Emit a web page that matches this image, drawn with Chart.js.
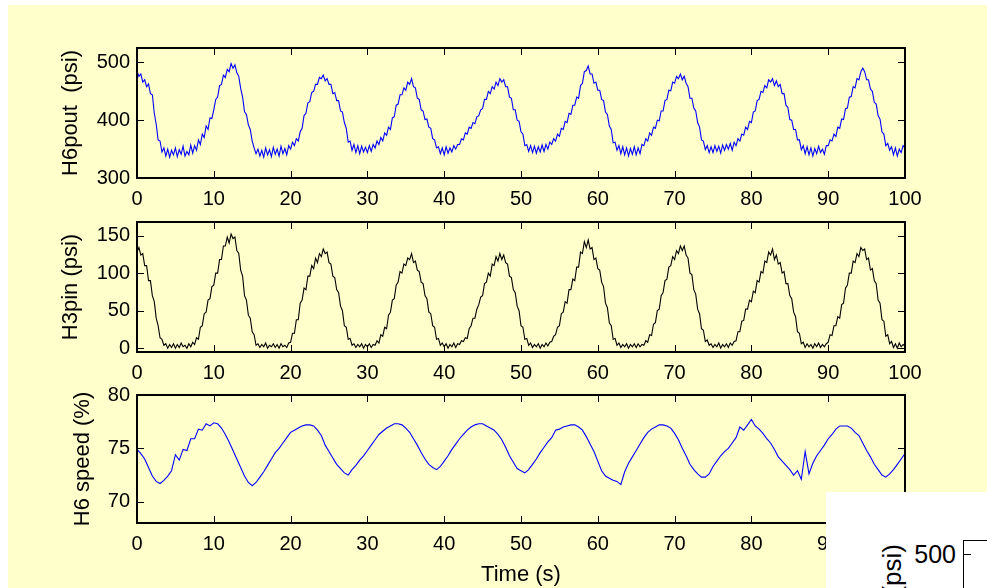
<!DOCTYPE html>
<html lang="en">
<head>
<meta charset="UTF-8">
<title>H6 discharge, H3 suction and H6 speed</title>
<script src="https://cdn.jsdelivr.net/npm/chart.js"></script>
<style>
  html, body { margin: 0; padding: 0; background: #fff; }
  body { width: 987px; height: 588px; position: relative; overflow: hidden; font-family: "Liberation Sans", Arial, sans-serif; }
  #figure { position: absolute; left: 8px; top: 5px; right: 0; bottom: 0; background: #ffffcc; }
  canvas.panel { position: absolute; left: 0; top: 0; }
  /* corner of another figure window lying on top */
  #other { position: absolute; left: 826px; top: 492px; width: 161px; height: 96px; background: #fff; overflow: hidden; z-index: 5; }
  #other .ylab { position: absolute; left: 51px; top: 52px; line-height: 30px; font-size: 26px; white-space: nowrap;
                 writing-mode: vertical-rl; transform: rotate(180deg); }
  #other .tick500 { position: absolute; right: 31px; top: 47px; line-height: 30px; font-size: 25px; }
  #other .box { position: absolute; left: 137px; top: 48px; width: 40px; height: 60px; border-left: 1px solid #000; border-top: 1px solid #000; }
  #other .mark { position: absolute; left: 137px; top: 62px; width: 8px; height: 1px; background: #000; }
</style>
</head>
<body>
<div id="figure"></div>
<canvas class="panel" id="p1" width="987" height="588"></canvas>
<canvas class="panel" id="p2" width="987" height="588"></canvas>
<canvas class="panel" id="p3" width="987" height="588"></canvas>
<div id="other">
  <div class="ylab">H6pout (psi)</div>
  <div class="tick500">500</div>
  <div class="box"></div>
  <div class="mark"></div>
</div>

<script>
// x tick values shared by the three panels
const xTicks = [0, 10, 20, 30, 40, 50, 60, 70, 80, 90, 100];

// H6 outlet pressure (psi), one sample every 0.25 s
const h6pout = [
  485, 476, 480, 466, 470, 458, 463, 446, 444, 412, 393, 366, 364, 345, 352, 338, 350, 336, 348, 340,
  352, 337, 349, 341, 355, 338, 346, 340, 357, 343, 356, 348, 366, 358, 376, 370, 390, 384, 404, 403,
  418, 436, 440, 460, 462, 478, 474, 488, 484, 498, 490, 496, 482, 476, 455, 440, 415, 410, 392, 384,
  364, 352, 342, 350, 338, 348, 336, 352, 340, 349, 337, 353, 341, 350, 338, 355, 342, 351, 340, 356,
  350, 362, 356, 368, 364, 380, 386, 408, 412, 430, 432, 448, 450, 462, 462, 474, 472, 478, 468, 472,
  462, 462, 446, 448, 434, 434, 416, 414, 396, 386, 362, 364, 348, 358, 344, 356, 342, 355, 345, 353,
  344, 356, 346, 358, 352, 364, 358, 370, 364, 378, 374, 388, 384, 404, 406, 426, 428, 444, 444, 456,
  452, 466, 462, 472, 458, 456, 438, 436, 418, 416, 401, 402, 388, 386, 368, 366, 352, 354, 342, 352,
  340, 354, 343, 352, 345, 356, 350, 358, 358, 368, 366, 378, 376, 388, 386, 396, 394, 406, 408, 418,
  420, 436, 436, 450, 446, 458, 454, 466, 460, 472, 466, 470, 458, 458, 440, 438, 418, 418, 400, 398,
  380, 376, 356, 358, 346, 356, 344, 355, 343, 354, 345, 357, 346, 358, 350, 362, 358, 368, 364, 376,
  372, 386, 384, 398, 396, 412, 410, 426, 426, 440, 438, 460, 464, 484, 486, 494, 480, 480, 464, 466,
  452, 452, 436, 434, 414, 410, 390, 384, 361, 362, 348, 356, 342, 354, 340, 352, 338, 351, 341, 354,
  340, 352, 342, 358, 356, 368, 364, 378, 374, 388, 386, 400, 399, 416, 416, 434, 436, 452, 451, 466,
  464, 476, 472, 480, 470, 476, 464, 458, 438, 438, 421, 416, 396, 388, 366, 364, 349, 356, 344, 354,
  344, 356, 346, 355, 343, 357, 348, 358, 350, 360, 348, 362, 356, 368, 364, 376, 374, 388, 384, 398,
  396, 414, 416, 434, 436, 450, 448, 460, 456, 470, 466, 472, 460, 468, 458, 462, 446, 446, 426, 422,
  401, 400, 384, 384, 366, 366, 349, 356, 342, 354, 340, 352, 338, 351, 342, 355, 344, 350, 341, 356,
  356, 366, 364, 376, 372, 388, 386, 402, 401, 420, 421, 440, 441, 458, 456, 472, 470, 484, 490, 484,
  470, 470, 454, 450, 431, 428, 408, 402, 380, 376, 356, 360, 348, 354, 340, 352, 338, 350, 344, 356,
  352
];

// H3 inlet pressure (psi), one sample every 0.25 s
const h3pin = [
  128, 134, 124, 126, 110, 110, 90, 90, 70, 62, 40, 30, 14, 12, 4, 6, 0, 5, 1, 6,
  0, 5, 1, 7, 2, 4, 0, 6, 2, 8, 5, 14, 12, 28, 30, 46, 48, 64, 66, 82,
  84, 100, 100, 118, 118, 136, 136, 148, 140, 152, 146, 148, 130, 126, 104, 96, 70, 64, 44, 40,
  22, 18, 4, 6, 1, 5, 2, 7, 0, 4, 2, 6, 1, 5, 0, 6, 2, 4, 1, 7,
  8, 20, 20, 38, 38, 60, 64, 80, 78, 96, 96, 110, 106, 120, 114, 126, 122, 132, 126, 128,
  114, 112, 96, 94, 78, 74, 56, 50, 30, 28, 12, 13, 4, 6, 1, 5, 2, 6, 0, 5,
  2, 6, 1, 5, 4, 10, 7, 18, 16, 28, 26, 44, 48, 64, 66, 84, 88, 102, 100, 112,
  110, 120, 118, 126, 114, 116, 104, 102, 88, 86, 70, 66, 48, 46, 30, 28, 12, 13, 4, 7,
  2, 6, 0, 5, 2, 7, 1, 6, 5, 10, 9, 14, 13, 26, 30, 40, 40, 52, 58, 68,
  70, 86, 88, 100, 96, 112, 110, 122, 116, 126, 118, 124, 114, 112, 96, 94, 78, 74, 56, 50,
  30, 28, 12, 13, 4, 7, 1, 5, 2, 6, 0, 5, 2, 7, 3, 8, 9, 16, 18, 28,
  30, 46, 48, 62, 60, 78, 78, 92, 90, 108, 108, 128, 126, 142, 134, 144, 132, 134, 118, 120,
  106, 104, 88, 82, 60, 54, 34, 30, 12, 13, 4, 7, 1, 5, 2, 6, 0, 5, 2, 6,
  1, 6, 2, 5, 4, 10, 8, 18, 17, 32, 34, 50, 52, 70, 74, 90, 92, 108, 110, 122,
  118, 130, 126, 136, 130, 136, 124, 120, 100, 98, 78, 72, 52, 46, 26, 24, 9, 11, 4, 6,
  1, 5, 2, 7, 0, 5, 2, 6, 1, 7, 4, 9, 10, 22, 22, 36, 37, 52, 52, 64,
  62, 76, 74, 90, 88, 102, 100, 116, 114, 128, 124, 132, 118, 124, 112, 114, 100, 102, 86, 86,
  70, 66, 48, 42, 22, 20, 6, 8, 1, 6, 2, 5, 0, 6, 2, 7, 1, 5, 2, 6,
  8, 18, 17, 30, 30, 42, 40, 58, 60, 80, 84, 100, 100, 116, 114, 126, 122, 134, 130, 132,
  118, 120, 104, 106, 90, 86, 64, 60, 38, 36, 16, 18, 6, 9, 1, 6, 0, 7, 2, 5,
  3
];

// H6 pump speed (%), one sample every 0.5 s
const h6speed = [
  74.9, 74.5, 74.0, 73.2, 72.4, 71.9, 71.7, 72.0, 72.4, 72.9, 74.4, 73.9, 74.9, 74.8, 75.9, 75.9, 76.8, 76.7, 77.3, 77.1,
  77.4, 77.3, 76.9, 76.3, 75.6, 74.8, 74.0, 73.2, 72.4, 71.8, 71.5, 71.8, 72.3, 72.8, 73.4, 74.0, 74.6, 75.0, 75.5, 76.0,
  76.5, 76.7, 76.9, 77.1, 77.2, 77.2, 77.1, 76.7, 76.2, 75.3, 74.7, 74.1, 73.5, 73.1, 72.7, 72.5, 73.0, 73.4, 73.9, 74.3,
  74.8, 75.3, 75.8, 76.3, 76.6, 76.9, 77.1, 77.3, 77.3, 77.2, 76.9, 76.5, 75.9, 75.3, 74.6, 74.0, 73.5, 73.2, 73.0, 73.3,
  73.8, 74.3, 74.9, 75.4, 75.9, 76.3, 76.7, 77.0, 77.2, 77.3, 77.3, 77.1, 76.9, 76.7, 76.3, 75.8, 75.1, 74.3, 73.7, 73.1,
  72.9, 72.7, 73.0, 73.5, 74.0, 74.6, 75.1, 75.6, 76.0, 76.7, 76.8, 77.0, 77.1, 77.2, 77.2, 77.0, 76.7, 76.1, 75.4, 74.7,
  73.8, 72.9, 72.4, 72.2, 72.0, 71.9, 71.6, 72.8, 73.6, 74.2, 74.8, 75.4, 76.0, 76.5, 76.8, 77.0, 77.2, 77.2, 77.1, 76.9,
  76.4, 75.8, 75.0, 74.3, 73.5, 73.0, 72.6, 72.3, 72.3, 72.6, 73.3, 73.8, 74.3, 74.7, 75.0, 75.5, 76.0, 77.0, 76.7, 77.2,
  77.7, 77.1, 76.8, 76.4, 75.9, 75.5, 74.9, 74.2, 73.8, 73.4, 73.0, 72.5, 72.9, 72.1, 74.7, 72.6, 73.6, 74.3, 74.8, 75.3,
  75.9, 76.3, 76.8, 77.1, 77.1, 77.1, 76.9, 76.5, 76.2, 75.5, 74.8, 74.2, 73.5, 73.0, 72.5, 72.3, 72.6, 73.0, 73.5, 74.0,
  74.5
];

// sample clocks (s)
const tFast = h6pout.map((_, i) => i * 0.25);
const tSlow = h6speed.map((_, i) => i * 0.5);

const h6poutTicks = [300, 400, 500];
const h3pinTicks = [0, 50, 100, 150];
const h6speedTicks = [70, 75, 80];

Chart.defaults.font.family = '"Liberation Sans", Arial, sans-serif';
Chart.defaults.color = '#000';

// MATLAB style box with inward ticks on all four sides
const boxTicks = {
  id: 'boxTicks',
  afterDatasetsDraw(chart) {
    const { ctx, chartArea: a, scales: { x, y } } = chart;
    ctx.save();
    ctx.strokeStyle = '#000';
    ctx.lineWidth = 1;
    ctx.beginPath();
    x.ticks.forEach(t => {
      const px = Math.round(x.getPixelForValue(t.value)) + 0.5;
      ctx.moveTo(px, a.bottom); ctx.lineTo(px, a.bottom - 7);
      ctx.moveTo(px, a.top); ctx.lineTo(px, a.top + 7);
    });
    y.ticks.forEach(t => {
      const py = Math.round(y.getPixelForValue(t.value)) + 0.5;
      ctx.moveTo(a.left, py); ctx.lineTo(a.left + 7, py);
      ctx.moveTo(a.right, py); ctx.lineTo(a.right - 7, py);
    });
    ctx.stroke();
    ctx.lineWidth = 2;
    ctx.strokeRect(a.left, a.top, a.right - a.left, a.bottom - a.top);
    ctx.restore();
  }
};

function makePanel(id, cfg) {
  return new Chart(document.getElementById(id), {
    type: 'line',
    data: {
      labels: cfg.time,
      datasets: [{
        data: cfg.values,
        borderColor: cfg.color,
        borderWidth: 1.1,
        pointRadius: 0,
        tension: 0,
        fill: false
      }]
    },
    options: {
      responsive: false,
      animation: false,
      events: [],
      layout: { padding: { left: 0, top: cfg.top, right: 82, bottom: cfg.bottom } },
      plugins: { legend: { display: false }, tooltip: { enabled: false } },
      scales: {
        x: {
          type: 'linear',
          min: 0,
          max: 100,
          grid: { display: false, drawTicks: false },
          border: { display: false },
          afterBuildTicks: s => { s.ticks = xTicks.map(v => ({ value: v })); },
          afterFit: s => { s.height = cfg.xHeight; },
          ticks: { font: { size: 20 }, padding: 9, maxRotation: 0, autoSkip: false },
          title: {
            display: !!cfg.xTitle,
            text: cfg.xTitle || '',
            font: { size: 22 },
            padding: { top: 0, bottom: 0 }
          }
        },
        y: {
          min: cfg.yMin,
          max: cfg.yMax,
          grid: { display: false, drawTicks: false },
          border: { display: false },
          afterBuildTicks: s => { s.ticks = cfg.yTicks.map(v => ({ value: v })); },
          afterFit: s => { s.width = 137; },
          ticks: { font: { size: 20 }, padding: 7 },
          title: {
            display: true,
            text: cfg.yTitle,
            font: { size: 22 },
            padding: { top: cfg.titlePad, bottom: 0 }
          }
        }
      }
    },
    plugins: [boxTicks]
  });
}

makePanel('p1', {
  time: tFast, values: h6pout, color: '#0000ff',
  yMin: 300, yMax: 525, yTicks: h6poutTicks, yTitle: 'H6pout  (psi)',
  top: 48, bottom: 370, xHeight: 40, titlePad: 58
});

makePanel('p2', {
  time: tFast, values: h3pin, color: '#000000',
  yMin: -5, yMax: 168, yTicks: h3pinTicks, yTitle: 'H3pin (psi)',
  top: 222, bottom: 196, xHeight: 40, titlePad: 58
});

makePanel('p3', {
  time: tSlow, values: h6speed, color: '#0000ff',
  yMin: 68, yMax: 80, yTicks: h6speedTicks, yTitle: 'H6 speed (%)',
  top: 395, bottom: 0, xHeight: 65, titlePad: 70, xTitle: 'Time (s)'
});
</script>
</body>
</html>
